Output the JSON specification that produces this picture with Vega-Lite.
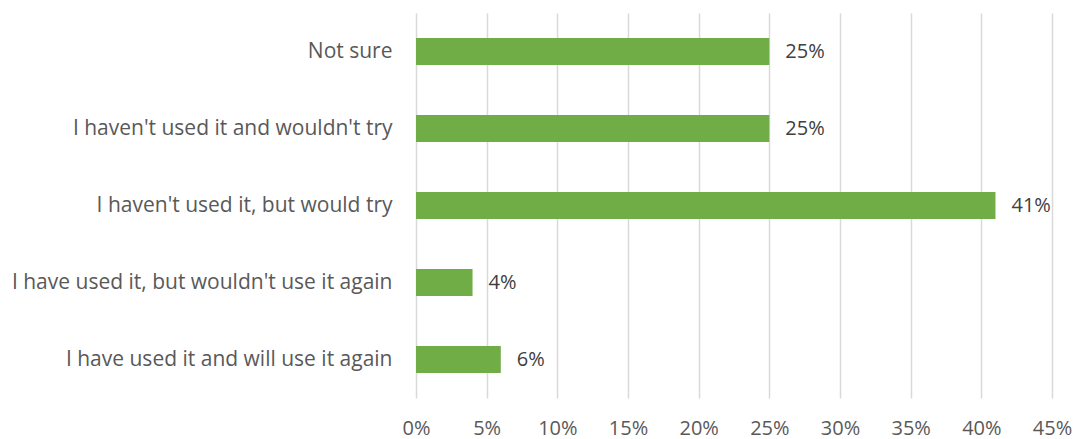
{
  "$schema": "https://vega.github.io/schema/vega-lite/v6.json",
  "width": 636,
  "height": 385,
  "autosize": {"type": "none"},
  "padding": {"left": 416, "top": 13, "right": 26, "bottom": 41},
  "background": "white",
  "config": {"view": {"stroke": null}, "font": "Open Sans"},
  "data": {"values": [
    {"category": "Not sure", "value": 0.25},
    {"category": "I haven't used it and wouldn't try", "value": 0.25},
    {"category": "I haven't used it, but would try", "value": 0.41},
    {"category": "I have used it, but wouldn't use it again", "value": 0.04},
    {"category": "I have used it and will use it again", "value": 0.06}
  ]},
  "encoding": {
    "y": {
      "field": "category", "type": "nominal", "sort": null,
      "scale": {"paddingInner": 0.65, "paddingOuter": 0.325},
      "axis": {"title": null, "domain": false, "ticks": false, "labelPadding": 24, "labelFontSize": 21, "labelColor": "#595959", "labelLimit": 500, "grid": false}
    },
    "x": {
      "field": "value", "type": "quantitative",
      "scale": {"domain": [0, 0.45], "nice": false},
      "axis": {"title": null, "format": ".0%", "values": [0, 0.05, 0.1, 0.15, 0.2, 0.25, 0.3, 0.35, 0.4, 0.45], "domain": false, "ticks": false, "grid": true, "gridColor": "#D9D9D9", "gridWidth": 1.5, "labelPadding": 20, "labelFontSize": 20, "labelColor": "#595959", "labelFlush": false}
    }
  },
  "layer": [
    {"mark": {"type": "bar", "color": "#70AD47"}},
    {"mark": {"type": "text", "align": "left", "dx": 16, "fontSize": 20, "color": "#404040"},
     "encoding": {"text": {"field": "value", "type": "quantitative", "format": ".0%"}}}
  ]
}
